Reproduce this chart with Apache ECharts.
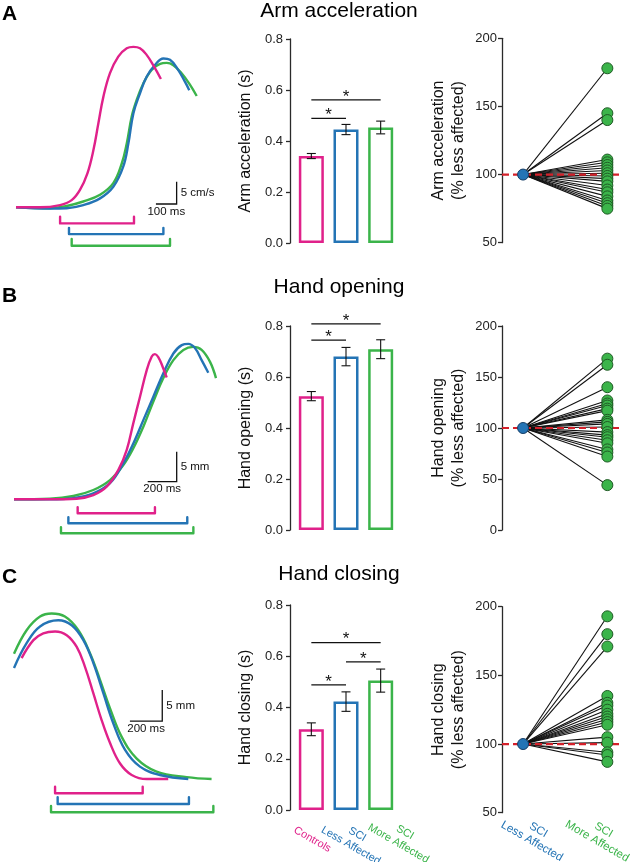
<!DOCTYPE html>
<html><head><meta charset="utf-8">
<script src="https://cdn.jsdelivr.net/npm/echarts@6/dist/echarts.min.js"></script>
<style>html,body{margin:0;padding:0;background:#fff}#c{width:630px;height:862px}</style>
</head><body><div id="c"></div>
<script>
// ---------- data ----------
const groups = ['Controls', 'SCI Less Affected', 'SCI More Affected'];
const colors = ['#e0218a', '#2474b5', '#3bb44a'];

// Panel A traces: time (ms), velocity (cm/s)
const armCtrl = [[0,0],[116,0],[213,0.5],[269,1.6],[309,3.9],[345,7.6],[374,12.8],[398,18.8],[422,24.7],[454,30.0],[494,33.7],[535,35.6],[567,35.9],[599,35.6],[631,34.1],[663,31.8],[700,28.7]];
const armLess = [[0,0],[164,-0.3],[245,-0.2],[325,0.5],[406,2.0],[470,4.6],[518,9.1],[543,14.3],[567,21.0],[599,25.5],[631,29.2],[671,31.8],[712,33.3],[744,33.0],[784,30.7],[816,28.1],[837,26.2]];
const armMore = [[0,0],[164,-0.2],[245,0.3],[325,1.3],[406,2.8],[470,5.4],[511,9.8],[535,14.3],[559,20.3],[583,24.0],[615,27.7],[655,30.7],[696,32.1],[728,32.3],[760,31.8],[800,30.0],[841,27.4],[873,24.9]];
// Panel B traces: time (ms), aperture (mm)
const openCtrl = [[0,0],[248,0],[432,0.1],[547,0.7],[639,2.1],[720,4.9],[777,8.2],[823,12.7],[869,17.1],[915,21.5],[950,23.8],[972,24.2],[995,23.7],[1025,22.1],[1053,20.3]];
const openLess = [[0,0],[248,0],[409,0.2],[547,1.0],[662,2.7],[754,6.0],[823,9.3],[892,13.2],[961,17.1],[1030,21.0],[1099,24.3],[1157,25.7],[1202,25.9],[1248,25.2],[1294,23.2],[1340,21.1]];
const openMore = [[0,0],[248,0.1],[409,0.55],[547,1.55],[662,3.2],[754,5.7],[823,8.5],[892,12.1],[961,16.3],[1030,20.2],[1099,23.2],[1168,24.9],[1237,25.4],[1294,24.9],[1352,22.9],[1393,20.2]];
// Panel C traces: time (ms), aperture (mm)
const closeCtrl = [[47,19.5],[120,22.4],[181,23.5],[254,23.8],[326,23.2],[388,21.3],[439,18.1],[491,13.8],[542,9.5],[594,5.8],[656,2.5],[728,0.65],[821,0],[954,0]];
const closeLess = [[0,17.9],[78,21.9],[161,24.6],[274,25.6],[357,24.8],[429,22.4],[491,18.7],[553,13.8],[614,9.0],[687,4.7],[779,2.0],[903,0.65],[1078,0]];
const closeMore = [[0,20.2],[78,24.0],[161,26.2],[233,26.7],[315,26.2],[398,24.0],[470,20.3],[532,16.0],[594,11.4],[666,6.8],[759,3.3],[882,1.2],[1068,0.3],[1222,0]];

// Duration brackets: [start ms, end ms, level, end-tick level]
const armBrackets = [[213,570,-3.6,-2.1],[256,712,-6.0,-4.6],[269,744,-8.6,-7.1]];
const openBrackets = [[439,972,-2.33,-1.33],[375,1195,-4.0,-3.0],[324,1237,-5.67,-4.67]];
const closeBrackets = [[254,796,-2.3,-1.24],[270,1082,-4.03,-2.95],[229,1233,-5.37,-4.35]];

// Scale bars: [t0, y0, dt, dy]
const armScale = [676, 0.74, 100, 5];
const openScale = [922, 2.93, 200, 5];
const closeScale = [717, 9.35, 200, 5];

// Bar charts (s)
const armMean = [0.341, 0.445, 0.453];
const armErr = [0.010, 0.020, 0.025];
const openMean = [0.525, 0.680, 0.709];
const openErr = [0.018, 0.036, 0.037];
const closeMean = [0.315, 0.423, 0.505];
const closeErr = [0.025, 0.038, 0.045];
const armSig = [[0,1,0.489],[0,2,0.561]];
const openSig = [[0,1,0.745],[0,2,0.808]];
const closeSig = [[0,1,0.488],[1,2,0.578],[0,2,0.653]];

// Paired plots (% less affected)
const armPct = [178,145,140,111,109,107,105,103,101,99,97,95,92,89,87,84,81,79,77,75];
const openPct = [168,162,140,127,124,122,119,117,108,106,104,101,96,93,91,88,85,79,76,72,44];
const closePct = [193,180,171,135,130,128,125,122,120,118,116,114,105,101,94,92,87];

const barTicks = [0, 0.8, 0.2];
const dotTicksA = [50, 200, 50];
const dotTicksB = [0, 200, 50];
const dotTicksC = [50, 200, 50];

// ---------- build ----------
const FONT = '"Liberation Sans", Arial, Helvetica, sans-serif';
const AX = '#2a2a2a';
const grids = [], xAxes = [], yAxes = [], series = [];

function txt(s, font, fill, align, valign) {
  return {text: s, font: font, fill: fill, align: align, verticalAlign: valign, textAlign: align, textVerticalAlign: valign};
}

function traceRow(box, xr, yr, traces, brackets, sb, vLabel, hLabel) {
  const gi = grids.length;
  grids.push({left: box[0], top: box[1], width: box[2], height: box[3]});
  xAxes.push({gridIndex: gi, type: 'value', min: xr[0], max: xr[1], show: false});
  yAxes.push({gridIndex: gi, type: 'value', min: yr[0], max: yr[1], show: false});
  [2, 1, 0].forEach(i => series.push({
    type: 'line', xAxisIndex: gi, yAxisIndex: gi, data: traces[i], smooth: 0.4,
    showSymbol: false, symbol: 'none', silent: true,
    lineStyle: {color: colors[i], width: 2.4}, z: 3
  }));
  series.push({
    type: 'custom', xAxisIndex: gi, yAxisIndex: gi, silent: true, clip: false,
    data: brackets.map((b, i) => [b[0], b[1], b[2], b[3], i]),
    renderItem: (p, api) => {
      const t1 = api.value(0), t2 = api.value(1), y = api.value(2), ye = api.value(3);
      return {type: 'polyline', shape: {points: [api.coord([t1, ye]), api.coord([t1, y]), api.coord([t2, y]), api.coord([t2, ye])]},
        style: {fill: null, stroke: colors[api.value(4)], lineWidth: 2.4, lineCap: 'round', lineJoin: 'round'}};
    }
  });
  series.push({
    type: 'custom', xAxisIndex: gi, yAxisIndex: gi, silent: true, clip: false,
    data: [sb],
    renderItem: (p, api) => {
      const t0 = api.value(0), y0 = api.value(1), dt = api.value(2), dy = api.value(3);
      const a = api.coord([t0, y0]), b = api.coord([t0 + dt, y0]), c = api.coord([t0 + dt, y0 + dy]);
      return {type: 'group', children: [
        {type: 'polyline', shape: {points: [a, b, c]}, style: {fill: null, stroke: '#111', lineWidth: 1.3}},
        {type: 'text', x: c[0] + 4, y: (b[1] + c[1]) / 2, style: txt(vLabel, '11.5px ' + FONT, '#111', 'left', 'middle')},
        {type: 'text', x: (a[0] + b[0]) / 2, y: a[1] + 1.5, style: txt(hLabel, '11.5px ' + FONT, '#111', 'center', 'top')}
      ]};
    }
  });
}

const barLabelShift = [[1, 29.5], [8, 30], [21, 28]];
const dotLabelShift = [[12, 23], [-7, 23]];

function barRow(box, means, errs, sigs, yName, showLabels) {
  const gi = grids.length;
  grids.push({left: box[0], top: box[1], width: box[2], height: box[3]});
  xAxes.push({gridIndex: gi, type: 'category', data: groups, axisLine: {show: false}, axisTick: {show: false}, axisLabel: {show: false}, splitLine: {show: false}});
  yAxes.push({gridIndex: gi, type: 'value', min: barTicks[0], max: barTicks[1], interval: barTicks[2], offset: 4,
    axisLine: {show: true, lineStyle: {color: AX, width: 1.3}},
    axisTick: {show: true, length: 4, lineStyle: {color: AX, width: 1.3}},
    splitLine: {show: false},
    axisLabel: {color: '#222', fontSize: 13, fontFamily: FONT, margin: 7, formatter: v => v.toFixed(1)},
    name: yName, nameLocation: 'middle', nameGap: 36,
    nameTextStyle: {fontSize: 16, color: '#111', fontFamily: FONT}
  });
  series.push({type: 'bar', xAxisIndex: gi, yAxisIndex: gi, barWidth: 25, silent: true,
    data: means.map((m, i) => ({value: m, itemStyle: {color: '#fff', borderColor: colors[i], borderWidth: 2.5}}))});
  series.push({type: 'custom', xAxisIndex: gi, yAxisIndex: gi, silent: true, clip: false, z: 5,
    data: means.map((m, i) => [i, m, errs[i]]),
    renderItem: (p, api) => {
      const i = api.value(0), m = api.value(1), e = api.value(2);
      const top = api.coord([i, m + e]), bot = api.coord([i, m - e]);
      const w = 4.5, st = {stroke: '#111', lineWidth: 1.1};
      return {type: 'group', children: [
        {type: 'line', shape: {x1: top[0], y1: top[1], x2: bot[0], y2: bot[1]}, style: st},
        {type: 'line', shape: {x1: top[0] - w, y1: top[1], x2: top[0] + w, y2: top[1]}, style: st},
        {type: 'line', shape: {x1: bot[0] - w, y1: bot[1], x2: bot[0] + w, y2: bot[1]}, style: st}
      ]};
    }
  });
  series.push({type: 'custom', xAxisIndex: gi, yAxisIndex: gi, silent: true, clip: false, z: 5,
    data: sigs,
    renderItem: (p, api) => {
      const a = api.coord([api.value(0), api.value(2)]), b = api.coord([api.value(1), api.value(2)]);
      return {type: 'group', children: [
        {type: 'line', shape: {x1: a[0], y1: a[1], x2: b[0], y2: b[1]}, style: {stroke: '#111', lineWidth: 1.2}},
        {type: 'text', x: (a[0] + b[0]) / 2, y: a[1] - 3, style: txt('*', '17px ' + FONT, '#111', 'center', 'middle')}
      ]};
    }
  });
  if (showLabels) {
    const labs = ['Controls', 'SCI\nLess Affected', 'SCI\nMore Affected'];
    series.push({type: 'custom', xAxisIndex: gi, yAxisIndex: gi, silent: true, clip: false,
      data: [[0, 0], [1, 0], [2, 0]],
      renderItem: (p, api) => {
        const i = api.value(0), c = api.coord([i, 0]);
        return {type: 'text', x: c[0] + barLabelShift[i][0], y: c[1] + barLabelShift[i][1], rotation: -Math.PI / 6,
          style: Object.assign(txt(labs[i], '11px ' + FONT, colors[i], 'center', 'middle'), {lineHeight: 13})};
      }
    });
  }
}

function dotRow(box, ticks, vals, yName, showLabels) {
  const gi = grids.length;
  grids.push({left: box[0], top: box[1], width: box[2], height: box[3]});
  xAxes.push({gridIndex: gi, type: 'value', min: 0.75, max: 2.15, show: false});
  yAxes.push({gridIndex: gi, type: 'value', min: ticks[0], max: ticks[1], interval: ticks[2],
    axisLine: {show: true, lineStyle: {color: AX, width: 1.3}},
    axisTick: {show: true, length: 4, lineStyle: {color: AX, width: 1.3}},
    splitLine: {show: false},
    axisLabel: {color: '#222', fontSize: 13, fontFamily: FONT, margin: 5},
    name: yName, nameLocation: 'middle', nameGap: 33,
    nameTextStyle: {fontSize: 16, color: '#111', fontFamily: FONT, lineHeight: 20}
  });
  series.push({type: 'custom', xAxisIndex: gi, yAxisIndex: gi, silent: true, z: 2,
    data: vals.map(v => [2, v]),
    renderItem: (p, api) => {
      const a = api.coord([1, 100]), b = api.coord([2, api.value(1)]);
      return {type: 'line', shape: {x1: a[0], y1: a[1], x2: b[0], y2: b[1]}, style: {stroke: '#111', lineWidth: 1.1}};
    }
  });
  series.push({type: 'line', xAxisIndex: gi, yAxisIndex: gi, silent: true, z: 3, showSymbol: false, symbol: 'none',
    data: [[0.75, 100], [2.15, 100]], lineStyle: {color: '#d4202a', width: 2.2, type: [7, 4]}});
  series.push({type: 'scatter', xAxisIndex: gi, yAxisIndex: gi, silent: true, z: 4, symbolSize: 11,
    data: vals.map(v => [2, v]), itemStyle: {color: colors[2], borderColor: '#1f5a24', borderWidth: 1, opacity: 1}});
  series.push({type: 'scatter', xAxisIndex: gi, yAxisIndex: gi, silent: true, z: 5, symbolSize: 11,
    data: [[1, 100]], itemStyle: {color: colors[1], borderColor: '#143d66', borderWidth: 1, opacity: 1}});
  if (showLabels) {
    const labs = ['SCI\nLess Affected', 'SCI\nMore Affected'];
    series.push({type: 'custom', xAxisIndex: gi, yAxisIndex: gi, silent: true, clip: false,
      data: [[1, ticks[0]], [2, ticks[0]]],
      renderItem: (p, api) => {
        const k = api.value(0) - 1, c = api.coord([api.value(0), api.value(1)]);
        return {type: 'text', x: c[0] + dotLabelShift[k][0], y: c[1] + dotLabelShift[k][1], rotation: -Math.PI / 6,
          style: Object.assign(txt(labs[k], '11.5px ' + FONT, colors[k + 1], 'center', 'middle'), {lineHeight: 13})};
      }
    });
  }
}

// Row A
traceRow([16, 28.5, 186.3, 223.5], [0, 900], [-10, 40], [armCtrl, armLess, armMore], armBrackets, armScale, '5 cm/s', '100 ms');
barRow([294, 39, 104, 204], armMean, armErr, armSig, 'Arm acceleration (s)', false);
dotRow([502, 38.3, 118, 204.4], dotTicksA, armPct, 'Arm acceleration\n(% less affected)', false);
// Row B
traceRow([14, 319.3, 205.9, 228], [0, 1420], [-8, 30], [openCtrl, openLess, openMore], openBrackets, openScale, '5 mm', '200 ms');
barRow([294, 326, 104, 204], openMean, openErr, openSig, 'Hand opening (s)', false);
dotRow([502, 326, 118, 204], dotTicksB, openPct, 'Hand opening\n(% less affected)', false);
// Row C
traceRow([14, 593, 202.1, 235.6], [0, 1250], [-8, 30], [closeCtrl, closeLess, closeMore], closeBrackets, closeScale, '5 mm', '200 ms');
barRow([294, 605, 104, 205], closeMean, closeErr, closeSig, 'Hand closing (s)', true);
dotRow([502, 606.7, 118, 206], dotTicksC, closePct, 'Hand closing\n(% less affected)', true);

const titles = [['A', 'Arm acceleration', 14.5, 10.8], ['B', 'Hand opening', 295.8, 287.5], ['C', 'Hand closing', 577, 574]];
const graphic = [];
titles.forEach(t => {
  graphic.push({type: 'text', x: 2, y: t[2], style: txt(t[0], 'bold 21px ' + FONT, '#000', 'left', 'middle')});
  graphic.push({type: 'text', x: 339, y: t[3], style: txt(t[1], '21px ' + FONT, '#000', 'center', 'middle')});
});

const chart = echarts.init(document.getElementById('c'));
chart.setOption({
  animation: false,
  backgroundColor: '#fff',
  grid: grids, xAxis: xAxes, yAxis: yAxes, series: series, graphic: graphic
});
</script></body></html>
